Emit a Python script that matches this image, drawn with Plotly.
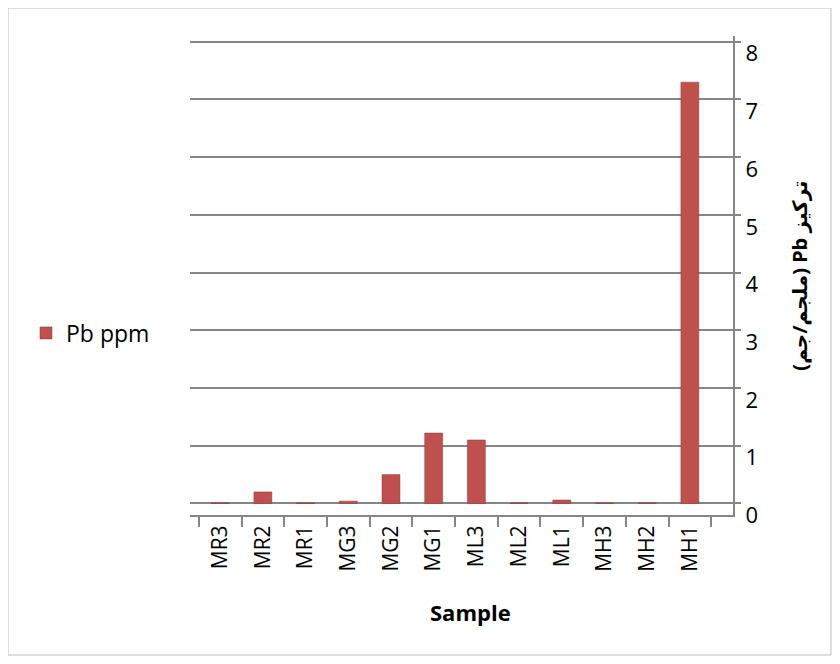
import plotly.graph_objects as go

samples = ["MR3", "MR2", "MR1", "MG3", "MG2", "MG1", "ML3", "ML2", "ML1", "MH3", "MH2", "MH1"]
pb_ppm = [0.01, 0.2, 0.01, 0.04, 0.5, 1.22, 1.1, 0.01, 0.06, 0.01, 0.01, 7.3]
y_ticks = [0, 1, 2, 3, 4, 5, 6, 7, 8]

# page body has an 8px margin; figure spans 8..832 x 8..656 in the window
W, H = 824, 648
L, R, T, B = 182, 99, 28, 141
pw, ph = W - L - R, H - T - B

FONT = "Open Sans, Liberation Sans, sans-serif"

fig = go.Figure()
fig.add_trace(go.Bar(
    x=samples, y=pb_ppm, name="Pb ppm",
    marker=dict(color="#C0504D", line=dict(color="#8C3836", width=0.5)),
    width=0.42,
))

fig.update_layout(
    width=W, height=H,
    margin=dict(l=L, r=R, t=T, b=B),
    paper_bgcolor="white", plot_bgcolor="white",
    font=dict(family=FONT, color="#000000"),
    showlegend=True,
    legend=dict(x=(18 - L) / pw, y=1 - (325 - T) / ph, xanchor="left", yanchor="middle",
                font=dict(size=23, family=FONT),
                bgcolor="rgba(0,0,0,0)"),
    xaxis=dict(
        type="category", tickangle=-90, automargin=False,
        range=[-0.707, 12.01],
        tickfont=dict(size=21, family=FONT),
        showline=True, linecolor="#868686", linewidth=2,
        ticks="outside", ticklen=10, tickcolor="#868686", tickwidth=2,
        tickson="boundaries", showgrid=False,
    ),
    yaxis=dict(
        side="right", range=[-0.2, 8.1], tickvals=y_ticks, automargin=False,
        tickfont=dict(size=22, family=FONT),
        ticklabelshift=12,
        showgrid=True, gridcolor="#868686", gridwidth=2,
        zeroline=True, zerolinecolor="#868686", zerolinewidth=2,
        ticks="outside", ticklen=6, tickcolor="#868686", tickwidth=2,
        showline=True, linecolor="#868686", linewidth=2,
        title=dict(text="\u202Bتركيز Pb (ملجم/جم)\u202C",
                   font=dict(size=20, family="Noto Sans, DejaVu Sans, sans-serif", weight="bold"),
                   standoff=36),
    ),
    annotations=[dict(text="Sample", xref="paper", yref="paper",
                      x=(462 - L) / pw, y=-(604 - (H - B)) / ph,
                      xanchor="center", yanchor="middle", showarrow=False,
                      font=dict(size=22, family=FONT, weight="bold"))],
    shapes=[dict(type="rect", xref="paper", yref="paper",
                 x0=-L / pw, x1=(W - L - 1) / pw,
                 y0=-B / ph + 1 / ph, y1=1 + T / ph,
                 line=dict(color="#BFBFBF", width=1), layer="below")],
)

fig.write_html("out.html")
